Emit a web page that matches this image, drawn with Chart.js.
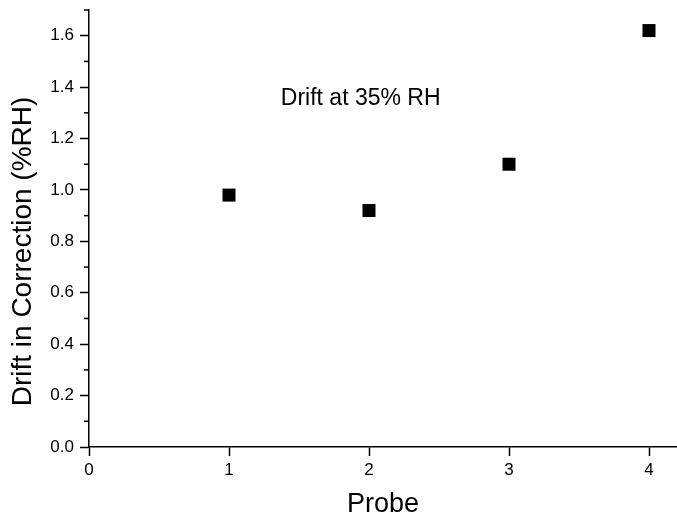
<!DOCTYPE html>
<html>
<head>
<meta charset="utf-8">
<script src="https://cdn.jsdelivr.net/npm/chart.js@4/dist/chart.umd.min.js"></script>
<style>
  html, body { margin: 0; padding: 0; background: #fff; }
  #wrap { width: 677px; height: 521px; }
</style>
</head>
<body>
<div id="wrap"><canvas id="drift-graph"></canvas></div>
<script>
const probes = [1, 2, 3, 4];
const drift = [0.98, 0.92, 1.10, 1.62];
const yMinorTicks = [0.1, 0.3, 0.5, 0.7, 0.9, 1.1, 1.3, 1.5, 1.7];
const noteText = "Drift at 35% RH";
const notePos = { x: 1.37, y: 1.33 };
const yTitle = "Drift in Correction (%RH)";

const FONT = "'Liberation Sans', Arial, sans-serif";

// small ticks on the y axis, the y title (sits a bit below centre) and the note
const extras = {
  id: "extras",
  afterDraw(chart) {
    const ctx = chart.ctx;
    const x = chart.scales.x;
    const y = chart.scales.y;
    ctx.save();
    ctx.strokeStyle = "#000";
    ctx.lineWidth = 1.5;
    yMinorTicks.forEach((v) => {
      const py = y.getPixelForValue(v);
      ctx.beginPath();
      ctx.moveTo(y.right - 5, py);
      ctx.lineTo(y.right, py);
      ctx.stroke();
    });
    ctx.fillStyle = "#000";
    ctx.font = "23px " + FONT;
    ctx.textAlign = "left";
    ctx.textBaseline = "alphabetic";
    ctx.fillText(noteText, x.getPixelForValue(notePos.x), y.getPixelForValue(notePos.y));

    ctx.translate(23, (y.top + y.bottom) / 2 + 23);
    ctx.rotate(-Math.PI / 2);
    ctx.font = "28px " + FONT;
    ctx.textAlign = "center";
    ctx.textBaseline = "middle";
    ctx.fillText(yTitle, 0, 0);
    ctx.restore();
  },
};

const ctx = document.getElementById("drift-graph");
new Chart(ctx, {
  type: "scatter",
  data: {
    datasets: [
      {
        label: "Drift",
        data: probes.map((p, i) => ({ x: p, y: drift[i] })),
        pointStyle: "rect",
        pointRadius: 9.2,
        pointHoverRadius: 9.2,
        backgroundColor: "#000",
        borderWidth: 0,
        clip: false,
      },
    ],
  },
  options: {
    responsive: true,
    maintainAspectRatio: false,
    animation: false,
    layout: { autoPadding: false, padding: { top: 10, right: 0, left: 0, bottom: 0 } },
    plugins: {
      legend: { display: false },
      tooltip: { enabled: false },
    },
    scales: {
      x: {
        type: "linear",
        min: 0,
        max: 4.2,
        afterFit: (s) => {
          s.height = 74;
          s.paddingLeft = 0;
          s.paddingRight = 0;
        },
        border: { color: "#000", width: 1.5 },
        grid: { drawOnChartArea: false, tickLength: 9, tickColor: "#000", tickWidth: 1.5 },
        ticks: {
          stepSize: 1,
          includeBounds: false,
          color: "#000",
          padding: 4,
          font: { family: FONT, size: 17 },
        },
        title: {
          display: true,
          text: "Probe",
          color: "#000",
          padding: { top: 0, bottom: 0 },
          font: { family: FONT, size: 27 },
        },
      },
      y: {
        min: 0,
        max: 1.7,
        afterFit: (s) => {
          s.width = 89;
          s.paddingTop = 0;
          s.paddingBottom = 0;
        },
        border: { color: "#000", width: 1.5 },
        grid: { drawOnChartArea: false, tickLength: 9, tickColor: "#000", tickWidth: 1.5 },
        ticks: {
          stepSize: 0.2,
          includeBounds: false,
          color: "#000",
          padding: 6,
          font: { family: FONT, size: 17 },
          callback: (v) => v.toFixed(1),
        },
        title: { display: false },
      },
    },
  },
  plugins: [extras],
});
</script>
</body>
</html>
